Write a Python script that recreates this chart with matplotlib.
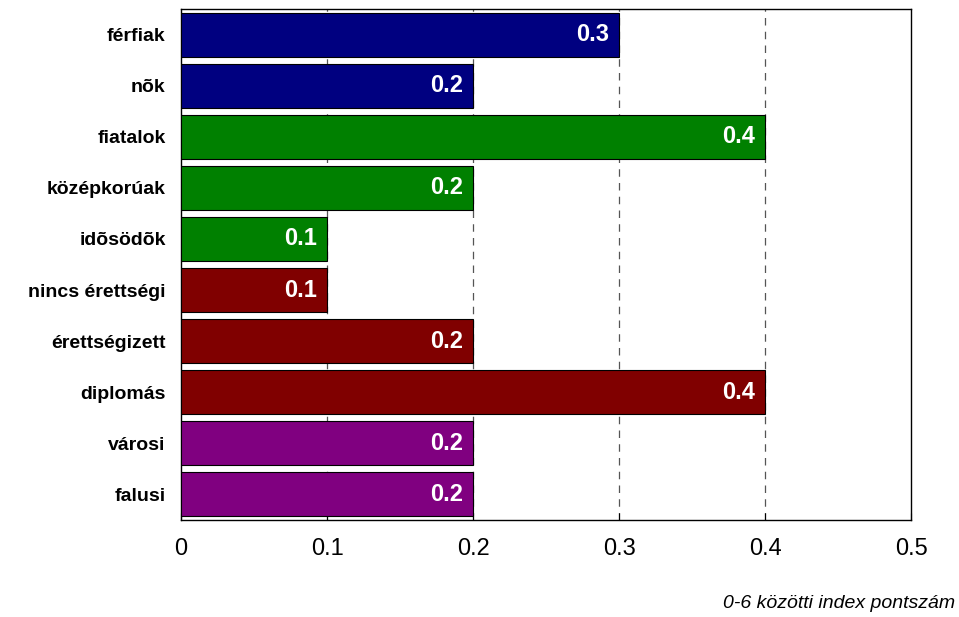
import matplotlib
matplotlib.use("Agg")
from matplotlib import pyplot as plt
from matplotlib import font_manager

categories = ["férfiak", "nõk", "fiatalok", "középkorúak", "idõsödõk",
              "nincs érettségi", "érettségizett", "diplomás", "városi", "falusi"]
values = [0.3, 0.2, 0.4, 0.2, 0.1, 0.1, 0.2, 0.4, 0.2, 0.2]
colors = ["#000080", "#000080", "#008000", "#008000", "#008000",
          "#800000", "#800000", "#800000", "#800080", "#800080"]
xticks = [0, 0.1, 0.2, 0.3, 0.4, 0.5]
note = "0-6 közötti index pontszám"

names = {f.name for f in font_manager.fontManager.ttflist}
fam = "Liberation Sans Narrow" if "Liberation Sans Narrow" in names else "Liberation Sans"
plt.rcParams["font.family"] = [fam, "DejaVu Sans"]

fig = plt.figure(figsize=(9.59, 6.17), dpi=100)
ax = fig.add_axes([181 / 959, 97 / 617, 730 / 959, 511 / 617])

pos = list(range(len(categories)))
ax.barh(pos, values, height=0.86, color=colors, edgecolor="black", linewidth=0.8, zorder=3)
for p, v in zip(pos, values):
    ax.text(v - 0.007, p, f"{v:.1f}", ha="right", va="center", color="white",
            fontsize=17, fontweight="bold", zorder=4)

ax.set_ylim(len(categories) - 0.5, -0.5)
ax.set_xlim(0, 0.5)
ax.set_yticks(pos)
ax.set_yticklabels(categories, fontsize=14, fontweight="bold")
ax.tick_params(axis="y", length=0, pad=11)
ax.set_xticks(xticks)
ax.set_xticklabels([str(t) for t in xticks], fontsize=17)
ax.tick_params(axis="x", direction="in", length=5, pad=13)
for t in xticks[1:-1]:
    ax.axvline(t, color="#555555", linestyle=(0, (6, 5)), linewidth=0.9, zorder=1)
for s in ax.spines.values():
    s.set_linewidth(1.0)

fig.text(955 / 959, 14 / 617, note, ha="right", va="center", fontsize=14, style="italic")

plt.savefig("out.png", dpi=100)
